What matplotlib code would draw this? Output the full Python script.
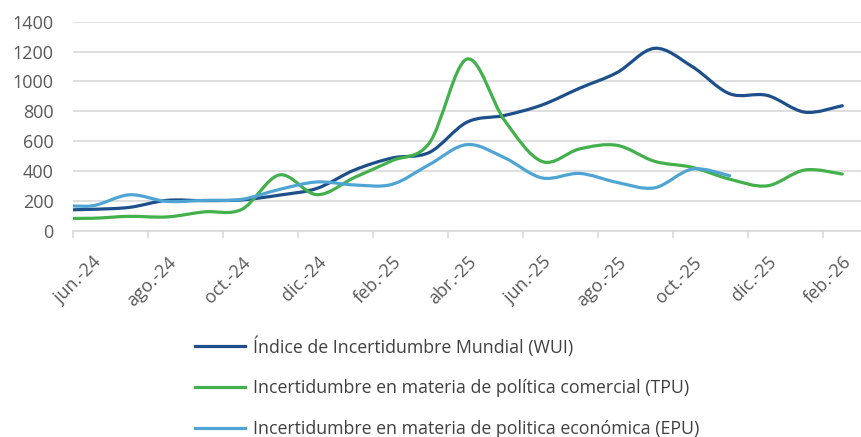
import numpy as np
import matplotlib
matplotlib.use("Agg")
import matplotlib.pyplot as plt
from matplotlib.path import Path
from matplotlib.patches import PathPatch

plt.rcParams['font.family'] = ['Open Sans', 'DejaVu Sans']

# monthly values, may-24 .. feb-26 (may-24 sits left of the axis and gets clipped)
months = ['may.-24', 'jun.-24', 'jul.-24', 'ago.-24', 'sep.-24', 'oct.-24', 'nov.-24', 'dic.-24',
          'ene.-25', 'feb.-25', 'mar.-25', 'abr.-25', 'may.-25', 'jun.-25', 'jul.-25', 'ago.-25',
          'sep.-25', 'oct.-25', 'nov.-25', 'dic.-25', 'ene.-26', 'feb.-26']
wui = [140, 145, 158, 205, 203, 208, 240, 285, 408, 488, 526, 728, 773, 843, 955, 1060,
       1222, 1100, 918, 907, 795, 838]
tpu = [85, 85, 98, 94, 128, 145, 375, 243, 358, 470, 590, 1150, 740, 465, 549, 573,
       466, 426, 347, 302, 408, 381]
epu = [180, 168, 242, 198, 205, 212, 278, 328, 308, 312, 445, 578, 490, 355, 385, 325,
       289, 414, 370]

labels = ['Índice de Incertidumbre Mundial (WUI)',
          'Incertidumbre en materia de política comercial (TPU)',
          'Incertidumbre en materia de politica económica (EPU)']
colors = ['#1d4f8a', '#42b04b', '#4ea5d3']

tick_labels = ['jun.-24', 'ago.-24', 'oct.-24', 'dic.-24', 'feb.-25', 'abr.-25',
               'jun.-25', 'ago.-25', 'oct.-25', 'dic.-25', 'feb.-26']


def smooth_path(x, y):
    # excel-like smoothed line: cubic bezier through each point
    pts = np.column_stack([x, y]).astype(float)
    n = len(pts)
    verts = [pts[0]]
    codes = [Path.MOVETO]
    for i in range(n - 1):
        p0 = pts[max(i - 1, 0)]
        p1 = pts[i]
        p2 = pts[i + 1]
        p3 = pts[min(i + 2, n - 1)]
        verts += [p1 + (p2 - p0) / 6, p2 - (p3 - p1) / 6, p2]
        codes += [Path.CURVE4] * 3
    return Path(verts, codes)


fig = plt.figure(figsize=(8.62, 4.37), dpi=100)
ax = fig.add_axes([73 / 862, 1 - 231 / 437, (861 - 73) / 862, (231 - 21.7) / 437])

# month centres, jun-24 slot spans 0..1
xpos = np.arange(len(months)) - 0.5

for series, lab, col in zip([wui, tpu, epu], labels, colors):
    xs = xpos[:len(series)]
    patch = PathPatch(smooth_path(xs, series), facecolor='none', edgecolor=col,
                      lw=2.3, capstyle='round', joinstyle='round')
    ax.add_patch(patch)
    ax.plot([], [], color=col, lw=2.3, label=lab)

ax.set_xlim(0, 21)
ax.set_ylim(0, 1400)
ax.set_yticks(np.arange(0, 1401, 200))
ax.yaxis.grid(True, color='#d9d9d9', lw=1.2)
ax.set_axisbelow(True)

ax.set_xticks(np.arange(0, 21, 2))
ax.set_xticklabels([])
ax.set_xticks(np.arange(0, 21, 2) + 0.5, minor=True)
ax.set_xticklabels(tick_labels, minor=True)
ax.tick_params(axis='x', which='major', length=5, width=1.2, color='#d9d9d9', direction='out')
ax.tick_params(axis='x', which='minor', length=0, pad=16, labelsize=13, labelcolor='#595959')
for t in ax.get_xticklabels(minor=True):
    t.set_rotation(45)
    t.set_ha('right')
    t.set_va('top')
    t.set_rotation_mode('anchor')
ax.tick_params(axis='y', length=0, pad=14, labelsize=13, labelcolor='#595959')

for s in ['top', 'right', 'left']:
    ax.spines[s].set_visible(False)
ax.spines['bottom'].set_color('#d9d9d9')
ax.spines['bottom'].set_linewidth(1.2)

fig.legend(loc='upper left', bbox_to_anchor=(195 / 862, 1 - 336 / 437), frameon=False,
           fontsize=12.8, labelcolor='#404040', handlelength=2.8, handletextpad=0.45,
           labelspacing=1.28, borderpad=0, borderaxespad=0)

fig.savefig('out.png', dpi=100)
